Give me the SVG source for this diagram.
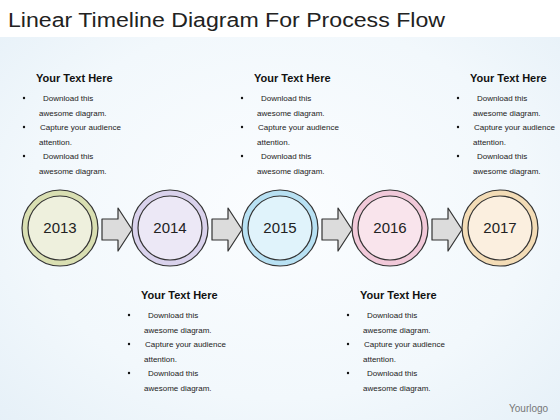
<svg xmlns="http://www.w3.org/2000/svg" width="560" height="420" viewBox="0 0 560 420">
<defs>
<radialGradient id="bg" cx="0.5" cy="0.5" r="0.75">
<stop offset="0" stop-color="#fbfdff"/>
<stop offset="0.6" stop-color="#f2f8fc"/>
<stop offset="1" stop-color="#e4eff7"/>
</radialGradient>
<style>
.title{font-family:"Liberation Sans",Arial,sans-serif;font-size:20px;fill:#222}
.hd{font-family:"Liberation Sans",Arial,sans-serif;font-size:11px;font-weight:bold;fill:#111}
.tx{font-family:"Liberation Sans",Arial,sans-serif;font-size:8px;fill:#222}
.bl{fill:#111}
.yr{font-family:"Liberation Sans",Arial,sans-serif;font-size:15px;fill:#222;text-anchor:middle}
.ln{stroke:#333;stroke-width:1.2}
.arr{fill:#dcdcdc;stroke:#333;stroke-width:1.2;stroke-linejoin:round}
.logo{font-family:"Liberation Sans",Arial,sans-serif;font-size:10px;fill:#777}
</style>
<g id="block">
<text class="hd" x="13" y="82">Your Text Here</text>
<circle class="bl" cx="1" cy="98" r="1.2"/>
<text class="tx" x="20" y="101">Download this</text>
<text class="tx" x="16" y="116">awesome diagram.</text>
<circle class="bl" cx="1" cy="127" r="1.2"/>
<text class="tx" x="17" y="130">Capture your audience</text>
<text class="tx" x="16" y="145">attention.</text>
<circle class="bl" cx="1" cy="156" r="1.2"/>
<text class="tx" x="20" y="159">Download this</text>
<text class="tx" x="16" y="174">awesome diagram.</text>
</g>
</defs>
<rect x="0" y="0" width="560" height="420" fill="url(#bg)"/>
<rect x="0" y="0" width="560" height="37" fill="#ffffff"/>
<text class="title" x="8" y="27" textLength="437" lengthAdjust="spacingAndGlyphs">Linear Timeline Diagram For Process Flow</text>

<g id="connectors">
<path class="arr" d="M102,219 H118 V208 L132,229.5 L118,251 V240 H102 Z"/>
<path class="arr" d="M212,219 H228 V208 L242,229.5 L228,251 V240 H212 Z"/>
<path class="arr" d="M322,219 H338 V208 L352,229.5 L338,251 V240 H322 Z"/>
<path class="arr" d="M432,219 H448 V208 L462,229.5 L448,251 V240 H432 Z"/>
</g>

<g id="node-2013">
<circle class="ln" cx="60" cy="228" r="38" fill="#d9dfb2"/>
<circle class="ln" cx="60" cy="228" r="32" fill="#eef0dd"/>
<text class="yr" x="60" y="233">2013</text>
</g>
<g id="node-2014">
<circle class="ln" cx="170" cy="228" r="38" fill="#d9d2ec"/>
<circle class="ln" cx="170" cy="228" r="32" fill="#ece8f6"/>
<text class="yr" x="170" y="233">2014</text>
</g>
<g id="node-2015">
<circle class="ln" cx="280" cy="228" r="38" fill="#b8e1f3"/>
<circle class="ln" cx="280" cy="228" r="32" fill="#e0f3fb"/>
<text class="yr" x="280" y="233">2015</text>
</g>
<g id="node-2016">
<circle class="ln" cx="390" cy="228" r="38" fill="#f1c9d9"/>
<circle class="ln" cx="390" cy="228" r="32" fill="#f9e4ec"/>
<text class="yr" x="390" y="233">2016</text>
</g>
<g id="node-2017">
<circle class="ln" cx="500" cy="228" r="38" fill="#f3dcb6"/>
<circle class="ln" cx="500" cy="228" r="32" fill="#fbefdf"/>
<text class="yr" x="500" y="233">2017</text>
</g>

<g id="text-2013"><use href="#block" x="23" y="0"/></g>
<g id="text-2014"><use href="#block" x="128" y="217"/></g>
<g id="text-2015"><use href="#block" x="241" y="0"/></g>
<g id="text-2016"><use href="#block" x="347" y="217"/></g>
<g id="text-2017"><use href="#block" x="457" y="0"/></g>

<text class="logo" x="509" y="412">Yourlogo</text>
</svg>
